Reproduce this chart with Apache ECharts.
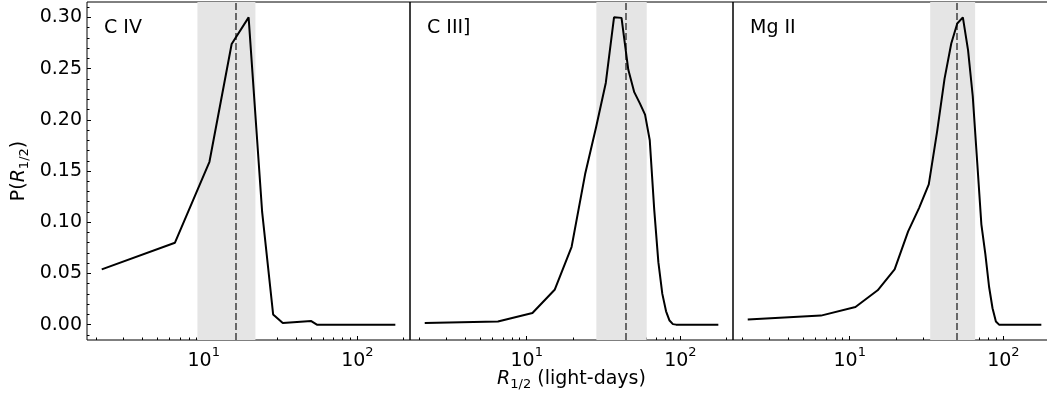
<!DOCTYPE html>
<html>
<head>
<meta charset="utf-8">
<script src="https://cdn.jsdelivr.net/npm/echarts@6/dist/echarts.min.js"></script>
<style>html,body{margin:0;padding:0;background:#fff}#c{width:1047px;height:400px}</style>
</head>
<body>
<div id="c"></div>
<script>
// ---- data ----
const panelNames = ['C IV', 'C III]', 'Mg II'];
const civ = [[2.17,0.054],[6.5,0.080],[10.9,0.159],[15.2,0.274],[19.6,0.300],[24.0,0.110],[28.3,0.010],[32.7,0.0015],[50.1,0.0035],[54.5,0.0],[176.6,0.0]];
const ciii = [[2.17,0.0015],[6.5,0.003],[10.9,0.0114],[15.2,0.034],[19.6,0.076],[24.0,0.147],[28.3,0.193],[32.7,0.236],[37.0,0.300],[41.4,0.2995],[45.8,0.249],[50.1,0.227],[54.5,0.216],[58.9,0.205],[63.2,0.180],[67.6,0.112],[71.9,0.061],[76.3,0.030],[80.7,0.013],[85.0,0.004],[89.4,0.0005],[93.7,0.0],[176.6,0.0]];
const mgii = [[2.17,0.005],[6.5,0.0088],[10.9,0.0172],[15.2,0.0335],[19.6,0.054],[24.0,0.091],[28.3,0.114],[32.7,0.137],[37.0,0.188],[41.4,0.240],[45.8,0.2745],[50.1,0.294],[54.5,0.300],[58.9,0.268],[63.2,0.223],[67.6,0.158],[71.9,0.098],[76.3,0.069],[80.7,0.037],[85.0,0.016],[89.4,0.003],[93.7,0.0],[176.6,0.0]];
const seriesData = [civ, ciii, mgii];
const bandLow = [9.1, 28.4, 33.4];
const bandHigh = [21.7, 60.4, 65.5];
const medians = [16.1, 44.4, 49.7];
const xTicksMajor = [10, 100];
const xTicksMinor = [2,3,4,5,6,7,8,9,20,30,40,50,60,70,80,90,200];
const yTicksMajor = [0, 0.05, 0.10, 0.15, 0.20, 0.25, 0.30];
const yTicksMinor = [-0.01,0.01,0.02,0.03,0.04,0.06,0.07,0.08,0.09,0.11,0.12,0.13,0.14,0.16,0.17,0.18,0.19,0.21,0.22,0.23,0.24,0.26,0.27,0.28,0.29,0.31];
const xMin = 1.74, xMax = 220, yMin = -0.015, yMax = 0.315;

const FONT = 'DejaVu Sans';
const FS = 19;
const chart = echarts.init(document.getElementById('c'), null, {renderer: 'canvas'});

const grids = [], xAxes = [], yAxes = [], series = [], graphics = [];
const left0 = 87, pw = 323;
const richName = {
  i: {fontFamily: FONT, fontSize: FS, fontStyle: 'italic', color: '#000', verticalAlign: 'middle', lineHeight: 23},
  sub: {fontFamily: FONT, fontSize: 13, color: '#000', verticalAlign: 'bottom', lineHeight: 23},
  n: {fontFamily: FONT, fontSize: FS, color: '#000', verticalAlign: 'middle', lineHeight: 23}
};
for (let i = 0; i < 3; i++) {
  grids.push({left: left0 + pw * i, top: 2, width: pw, height: 338, show: true, borderColor: '#000', borderWidth: 1,
    backgroundColor: 'transparent', containLabel: false, outerBoundsMode: 'none'});
  const xi = xAxes.length;
  xAxes.push({
    type: 'log', logBase: 10, gridIndex: i, min: xMin, max: xMax, position: 'bottom',
    axisLine: {show: false, onZero: false}, splitLine: {show: false},
    axisTick: {show: true, inside: true, length: 4, customValues: xTicksMajor, lineStyle: {color: '#000', width: 1}},
    axisLabel: {show: true, customValues: xTicksMajor, margin: 6, color: '#000',
      formatter: function (v) { const e = Math.round(Math.log10(v)); return '{b|10}{s|' + e + '}'; },
      rich: {b: {fontFamily: FONT, fontSize: FS, color: '#000', verticalAlign: 'bottom', lineHeight: 25},
             s: {fontFamily: FONT, fontSize: 13, color: '#000', verticalAlign: 'top', lineHeight: 25}}},
    name: i === 1 ? '{i|R}{sub|1/2}{n| (light-days)}' : '',
    nameLocation: 'middle', nameGap: 28, nameMoveOverlap: false,
    nameTextStyle: {rich: richName}
  });
  xAxes.push({
    type: 'log', logBase: 10, gridIndex: i, min: xMin, max: xMax, position: 'bottom',
    axisLine: {show: false, onZero: false}, splitLine: {show: false}, axisLabel: {show: false},
    axisTick: {show: true, inside: true, length: 2.5, customValues: xTicksMinor, lineStyle: {color: '#000', width: 1}}
  });
  const yi = yAxes.length;
  if (i === 0) {
    yAxes.push({
      type: 'value', gridIndex: 0, min: yMin, max: yMax, position: 'left',
      axisLine: {show: false, onZero: false}, splitLine: {show: false},
      axisTick: {show: true, inside: true, length: 4, customValues: yTicksMajor, lineStyle: {color: '#000'}},
      axisLabel: {show: true, customValues: yTicksMajor, margin: 5, color: '#000', fontFamily: FONT, fontSize: FS,
        formatter: v => v.toFixed(2)},
      name: '{n|P(}{i|R}{sub|1/2}{n|)}', nameLocation: 'middle', nameGap: 56, nameRotate: 90,
      nameTextStyle: {rich: richName}
    });
    yAxes.push({
      type: 'value', gridIndex: 0, min: yMin, max: yMax, position: 'left',
      axisLine: {show: false, onZero: false}, splitLine: {show: false}, axisLabel: {show: false},
      axisTick: {show: true, inside: true, length: 2.5, customValues: yTicksMinor, lineStyle: {color: '#000'}}
    });
  } else {
    yAxes.push({type: 'value', gridIndex: i, min: yMin, max: yMax, position: 'left',
      axisLine: {show: false, onZero: false}, axisTick: {show: false}, axisLabel: {show: false}, splitLine: {show: false}});
  }
  series.push({
    type: 'line', xAxisIndex: xi, yAxisIndex: yi, data: [], z: 1, silent: true,
    markArea: {silent: true, itemStyle: {color: '#e5e5e5'}, data: [[{xAxis: bandLow[i]}, {xAxis: bandHigh[i]}]]},
    markLine: {silent: true, symbol: 'none', label: {show: false},
      lineStyle: {color: '#5a5a5a', width: 1.8, type: [7, 3]}, data: [{xAxis: medians[i]}]}
  });
  series.push({
    type: 'line', xAxisIndex: xi, yAxisIndex: yi, data: seriesData[i], z: 5,
    showSymbol: false, symbol: 'none', lineStyle: {color: '#000', width: 2}, silent: true
  });
  graphics.push({type: 'text', left: left0 + pw * i + 17, top: 19,
    style: {text: panelNames[i], fontFamily: FONT, fontSize: FS, fill: '#000'}});
}

chart.setOption({
  animation: false,
  backgroundColor: '#fff',
  grid: grids, xAxis: xAxes, yAxis: yAxes, series: series, graphic: graphics
});
</script>
</body>
</html>
